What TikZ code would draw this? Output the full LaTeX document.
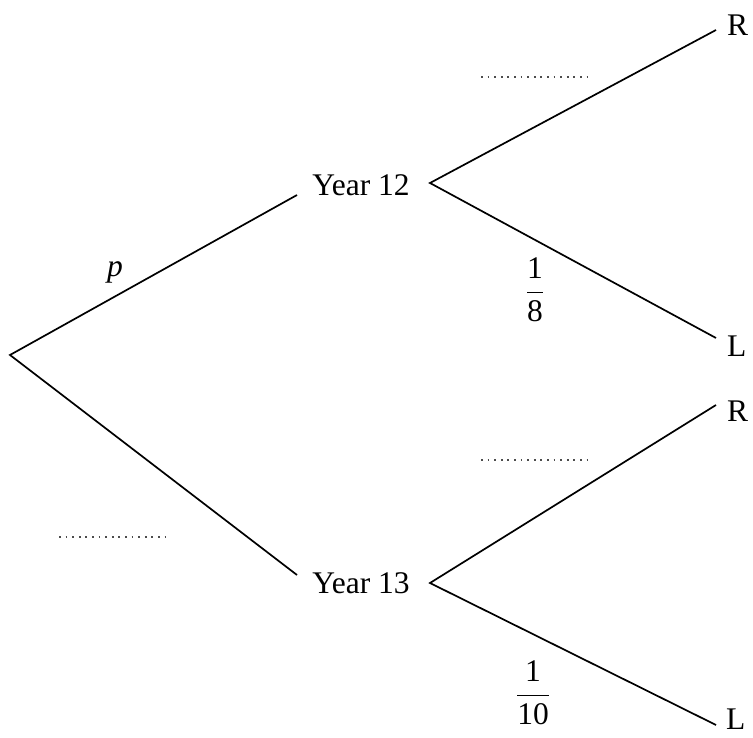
\documentclass[tikz,border=0pt]{standalone}
\usepackage{fontspec}
\setmainfont{Liberation Serif}
\usepackage{unicode-math}
\setmathfont{Latin Modern Math}
\setmathfont[range=up]{Liberation Serif}
\setmathfont[range=it]{Liberation Serif Italic}
\begin{document}
\begin{tikzpicture}[x=1pt,y=-1pt,
  branch/.style={line width=1.7pt,black},
  lbl/.style={font=\fontsize{31.5}{36}\selectfont,inner sep=0pt},
  blank/.style={line width=1.8pt,dash pattern=on 1.8pt off 4.8pt,black!70}]
\useasboundingbox (0,0) rectangle (753,738);
\coordinate (root) at (10,355);
\coordinate (a12) at (297,195);
\coordinate (a13) at (297,575);
\node[lbl] (y12) at (361,185) {Year 12};
\node[lbl] (y13) at (361,583) {Year 13};
\coordinate (v12) at (430,183);
\coordinate (v13) at (430,583);
\coordinate (r1) at (716,30);
\coordinate (l1) at (716,338);
\coordinate (r2) at (716,405);
\coordinate (l2) at (716,725);
\node[lbl,anchor=west] (R1) at (727,25) {R};
\node[lbl,anchor=west] (L1) at (727,346) {L};
\node[lbl,anchor=west] (R2) at (727,411) {R};
\node[lbl,anchor=west] (L2) at (726,719) {L};
\draw[branch] (a12) -- (root) -- (a13);
\draw[branch] (r1) -- (v12) -- (l1);
\draw[branch] (r2) -- (v13) -- (l2);
\node[lbl] (p) at (115,272) {\itshape p};
\node[lbl] (f8) at (535,290) {$\displaystyle\frac{1}{8}$};
\node[lbl] (f10) at (533,693) {$\displaystyle\frac{1}{10}$};
\coordinate (d1a) at (481,77); \coordinate (d1b) at (590,77);
\coordinate (d2a) at (481,460); \coordinate (d2b) at (590,460);
\coordinate (d3a) at (59,537); \coordinate (d3b) at (169,537);
\draw[blank] (d1a) -- (d1b);
\draw[blank] (d2a) -- (d2b);
\draw[blank] (d3a) -- (d3b);
\end{tikzpicture}
\end{document}
